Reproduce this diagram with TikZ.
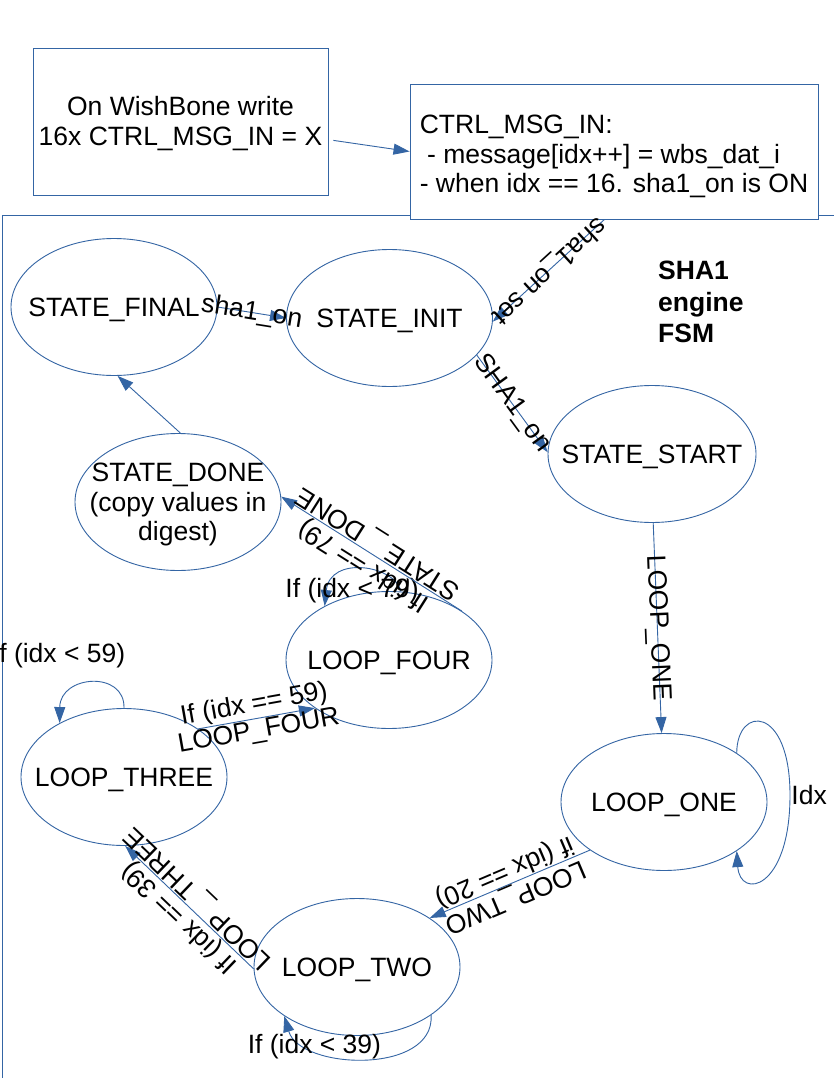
\documentclass[tikz,border=0pt]{standalone}
\usepackage{fontspec}
\setmainfont{Liberation Sans}
\usepackage{tikz}
\usetikzlibrary{arrows.meta, shapes.geometric}
\definecolor{FSMBlue}{RGB}{52, 101, 164}
\newcommand{\lowertext}[2]{\raisebox{0pt}[\dimexpr\height+#1\relax][\depth]{#2}}
\newcommand{\statetext}[1]{\makebox[0pt]{\lowertext{7pt}{\begin{tabular}{@{}c@{}}#1\end{tabular}}}}

\begin{document}
\begin{tikzpicture}[
          x=1pt, y=-1pt,
          every node/.style={font=\fontsize{26.5}{29.5}\selectfont},
          fsmstate/.style={ellipse, draw=FSMBlue, line width=0.9pt, minimum width=206pt, minimum height=137pt, inner sep=0pt},
          msgbox/.style={rectangle, draw=FSMBlue, line width=0.9pt, fill=white, inner sep=0pt},
          link/.style={draw=FSMBlue, line width=0.9pt, -{Triangle[length=16pt, width=11pt]}},
          lbl/.style={sloped, allow upside down, inner sep=1pt}
        ]
          \useasboundingbox (0,0) rectangle (833,1078);
          \fill[white] (0,0) rectangle (833,1078);
          \draw[FSMBlue, line width=0.9pt] (2,1080) -- (2,215) -- (835,215);

          \node[msgbox, minimum width=295pt, minimum height=147pt] (wb) at (180.5,121.5) {\lowertext{6pt}{\begin{tabular}{@{}c@{}}On WishBone write\\16x CTRL\_MSG\_IN = X\end{tabular}}};
          \node[msgbox, minimum width=408pt, minimum height=135pt] (ctrl) at (614,151.5) {\lowertext{12pt}{\begin{tabular}{@{}l@{}}CTRL\_MSG\_IN:\\\hspace*{0.28em}- message[idx++] = wbs\_dat\_i\\- when idx == 16. sha1\_on is ON\end{tabular}}};
          \node[font=\fontsize{26.5}{31.5}\selectfont\bfseries, align=left, anchor=west, inner sep=0pt] (title) at (658,302) {SHA1\\engine\\FSM};

          \node[fsmstate] (final) at (114,307) {\statetext{STATE\_FINAL}};
          \node[fsmstate] (init) at (389.5,318) {\statetext{STATE\_INIT}};
          \node[fsmstate, minimum width=208pt] (start) at (652,454) {\statetext{STATE\_START}};
          \node[fsmstate] (done) at (178,502) {\statetext{STATE\_DONE\\(copy values in\\digest)}};
          \node[fsmstate] (four) at (389,660) {\statetext{LOOP\_FOUR}};
          \node[fsmstate] (three) at (124,777) {\statetext{LOOP\_THREE}};
          \node[fsmstate] (one) at (664,802) {\statetext{LOOP\_ONE}};
          \node[fsmstate] (two) at (357,967) {\statetext{LOOP\_TWO}};

          \draw[link, shorten <=5pt] (wb.-7) -- (ctrl.west);
          \draw[link] (final.0) -- node[lbl] {sha1\_on} (init.180);
          \draw[link] (ctrl.262) -- node[lbl] {sha1\_on set} (init.-2);
          \draw[link] (init.-23) -- node[lbl] {SHA1\_on} (start.179);
          \draw[link] (start.-89) -- node[lbl] {LOOP\_ONE} (one.92);
          \draw[link] (one.34) .. controls (737,705) and (790,705) .. (790,795) node[right, inner sep=1pt] {Idx} .. controls (790,890) and (740,900) .. (one.-34);
          \draw[link] (one.213) -- node[lbl, below] {if (idx == 20)} node[lbl, above] {LOOP\_TWO} (two.34);
          \draw[link] (two.-33) .. controls (435,1075) and (300,1070) .. (two.214) node[pos=0.75] {If (idx < 39)};
          \draw[link] (two.181) -- node[lbl, above] {If (idx == 39)} node[lbl, below] {LOOP \_ THREE} (three.-89);
          \draw[link] (three.90) .. controls (125,670) and (60,675) .. (three.140) node[pos=0.8, above=28pt, xshift=-8pt] {If (idx < 59)};
          \draw[link] (three.33) -- node[lbl, above] {If (idx == 59)} node[lbl, below] {LOOP\_FOUR} (four.213);
          \draw[link] (four.80) .. controls (395,565) and (330,555) .. (four.140) node[pos=0.6, below=3pt] {If (idx < 79)};
          \draw[link] (four.34) -- node[lbl, above] {If (idx == 79)} node[lbl, below] {STATE \_ DONE} (done.3);
          \draw[link] (done.88) -- (final.-87);
        \end{tikzpicture}
\end{document}
